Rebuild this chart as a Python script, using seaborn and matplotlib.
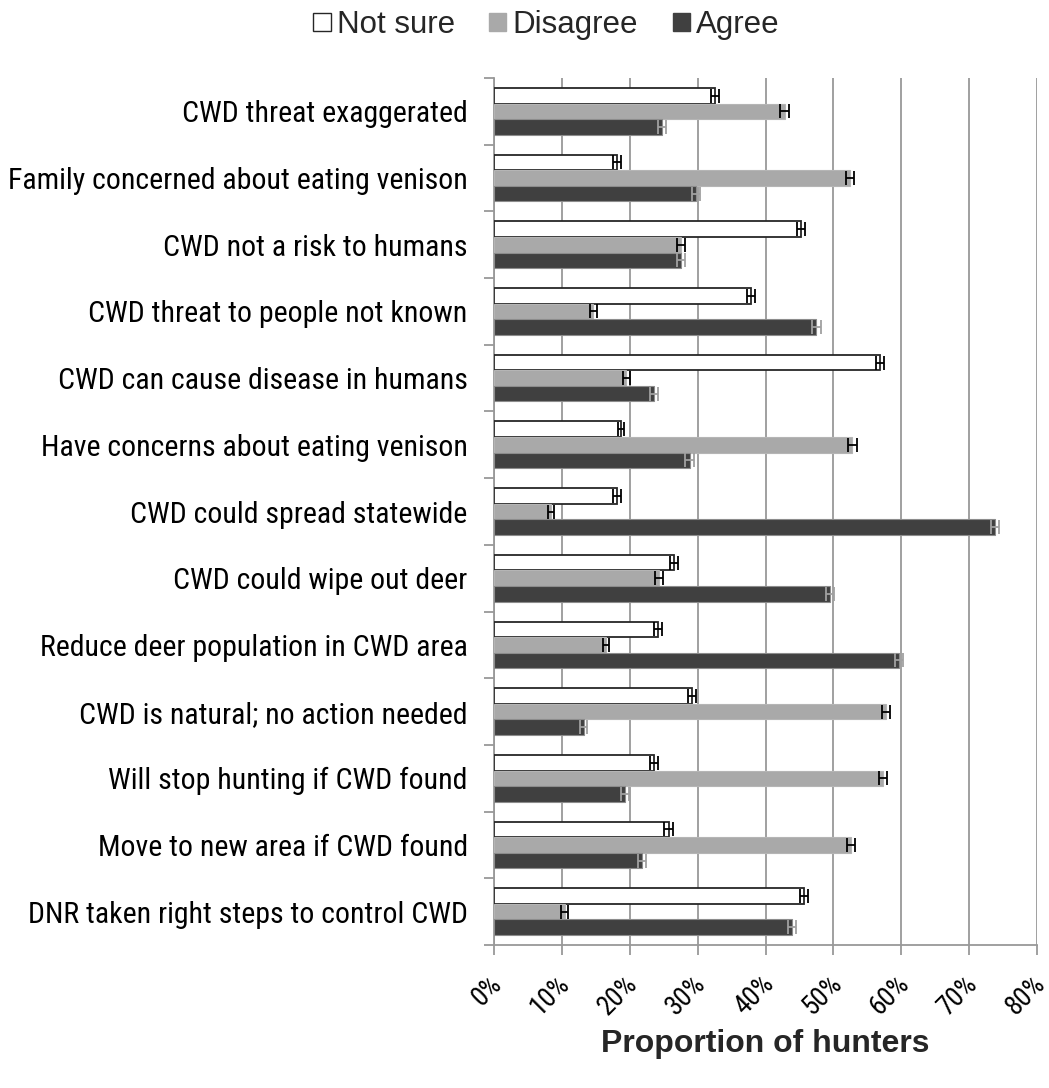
import numpy as np
import pandas as pd
import matplotlib
matplotlib.use("Agg")
import matplotlib.pyplot as plt
import matplotlib.transforms as mtransforms
import seaborn as sns
from matplotlib import font_manager
from matplotlib.ticker import PercentFormatter
from matplotlib.patches import Patch

# enquete sobre CWD - proporcao de cacadores por resposta
statements = [
    "CWD threat exaggerated",
    "Family concerned about eating venison",
    "CWD not a risk to humans",
    "CWD threat to people not known",
    "CWD can cause disease in humans",
    "Have concerns about eating venison",
    "CWD could spread statewide",
    "CWD could wipe out deer",
    "Reduce deer population in CWD area",
    "CWD is natural; no action needed",
    "Will stop hunting if CWD found",
    "Move to new area if CWD found",
    "DNR taken right steps to control CWD",
]
not_sure = [32.5, 18.1, 45.2, 37.9, 56.9, 18.7, 18.1, 26.5, 24.1, 29.2, 23.5, 25.7, 45.7]
disagree = [42.8, 52.4, 27.5, 14.6, 19.5, 52.8, 8.4, 24.3, 16.5, 57.8, 57.3, 52.6, 10.4]
agree = [24.7, 29.7, 27.5, 47.5, 23.6, 28.8, 73.8, 49.5, 59.7, 13.2, 19.3, 21.8, 43.9]

not_sure_err = [0.6, 0.6, 0.6, 0.6, 0.6, 0.5, 0.6, 0.6, 0.6, 0.6, 0.6, 0.6, 0.6]
disagree_err = [0.6, 0.6, 0.6, 0.5, 0.5, 0.6, 0.5, 0.6, 0.5, 0.6, 0.6, 0.6, 0.5]
agree_err = [0.6, 0.6, 0.6, 0.6, 0.6, 0.6, 0.6, 0.6, 0.6, 0.5, 0.6, 0.6, 0.6]

responses = ["Not sure", "Disagree", "Agree"]
colors = {"Not sure": "#ffffff", "Disagree": "#a9a9a9", "Agree": "#404040"}
edges = {"Not sure": "#262626", "Disagree": "#b5b5b5", "Agree": "#8c8c8c"}
err_colors = {"Not sure": "#000000", "Disagree": "#000000", "Agree": "#a0a0a0"}

df = pd.DataFrame({
    "statement": statements,
    "Not sure": not_sure,
    "Disagree": disagree,
    "Agree": agree,
})
long = df.melt(id_vars="statement", var_name="response", value_name="value")
errs = {"Not sure": not_sure_err, "Disagree": disagree_err, "Agree": agree_err}

sns.set_theme(style="white")
plt.rcParams['font.family'] = ['Liberation Sans', 'DejaVu Sans']

# rotulos das categorias numa fonte estreita se houver (como no original)
installed = {f.name for f in font_manager.fontManager.ttflist}
narrow = [n for n in ["Liberation Sans Narrow", "Arial Narrow", "Roboto Condensed",
                      "Open Sans Condensed", "Noto Sans Condensed"] if n in installed]
if narrow:
    label_family, cat_size, tick_size = [narrow[0], "DejaVu Sans"], 21.5, 19.5
else:
    label_family, cat_size, tick_size = ["Liberation Sans", "DejaVu Sans"], 19, 18

fig = plt.figure(figsize=(10.49, 10.88), dpi=100)
ax = fig.add_axes([0.471, 0.1314, 0.5176, 0.7969])

sns.barplot(data=long, y="statement", x="value", hue="response",
            order=statements, hue_order=responses, palette=colors,
            orient="h", width=0.70, errorbar=None, saturation=1,
            legend=False, ax=ax, zorder=3)

# bordas e barras de erro por serie
for cont, resp in zip(ax.containers, responses):
    ys, xs = [], []
    for bar in cont:
        bar.set_edgecolor(edges[resp])
        bar.set_linewidth(1.3 if resp == "Not sure" else 0.8)
        ys.append(bar.get_y() + bar.get_height() / 2)
        xs.append(bar.get_width())
    ax.errorbar(xs, ys, xerr=errs[resp], fmt="none", ecolor=err_colors[resp],
                elinewidth=1.3, capsize=5, capthick=1.3, zorder=4)

ax.set_xlim(0, 80)
ax.set_xticks(np.arange(0, 81, 10))
ax.xaxis.set_major_formatter(PercentFormatter(100, decimals=0))
ax.set_ylim(len(statements) - 0.5, -0.5)

ax.xaxis.grid(True, color="#999999", linewidth=1.3, zorder=0)
ax.yaxis.grid(False)
for side in ["top", "right"]:
    ax.spines[side].set_visible(False)
for side in ["left", "bottom"]:
    ax.spines[side].set_color("#999999")
    ax.spines[side].set_linewidth(1.3)

# ticks nos limites das categorias (estilo Excel)
ax.set_yticks(np.arange(-0.5, len(statements), 1), minor=True)
ax.tick_params(axis="y", which="major", length=0, pad=19, labelcolor="black")
ax.tick_params(axis="y", which="minor", length=7, width=1.3, color="#999999", left=True)
ax.tick_params(axis="x", which="major", length=7, width=1.3, color="#999999", bottom=True,
               labelcolor="black", pad=13)
for lbl in ax.get_yticklabels():
    lbl.set_family(label_family)
    lbl.set_fontsize(cat_size)
shift = mtransforms.ScaledTranslation(0.04, -0.07, fig.dpi_scale_trans)
for lbl in ax.get_xticklabels():
    lbl.set_family(label_family)
    lbl.set_fontsize(tick_size)
    lbl.set_rotation(45)
    lbl.set_ha("right")
    lbl.set_va("center")
    lbl.set_rotation_mode("anchor")
    lbl.set_transform(lbl.get_transform() + shift)

ax.set_ylabel("")
ax.set_xlabel("Proportion of hunters", fontsize=23, fontweight="bold", labelpad=6)

handles = [Patch(facecolor=colors[r], edgecolor="#262626" if r == "Not sure" else colors[r],
                 linewidth=1) for r in responses]
fig.legend(handles, responses, loc="center", bbox_to_anchor=(0.521, 0.977), ncol=3,
           frameon=False, fontsize=22.5, handlelength=0.55, handleheight=0.55,
           handletextpad=0.2, columnspacing=1.1)

plt.savefig("out.png", dpi=100)
plt.close()
